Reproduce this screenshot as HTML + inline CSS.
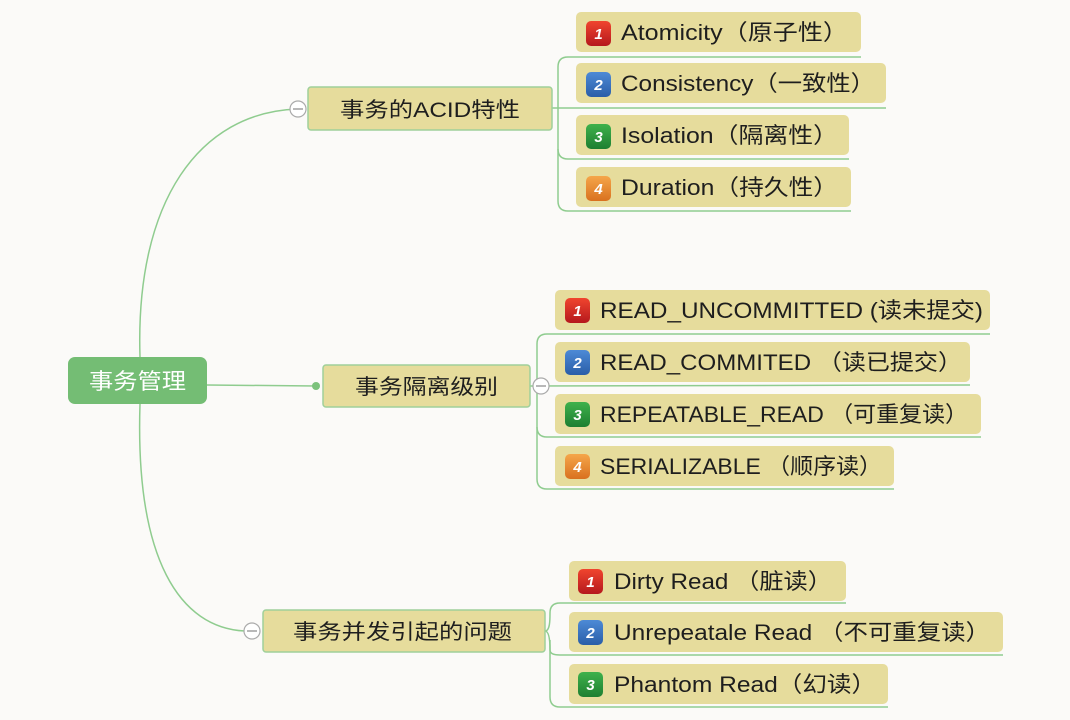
<!DOCTYPE html>
<html><head><meta charset="utf-8"><style>
html,body{margin:0;padding:0;background:#fbfaf8;}
svg{display:block;}
text{font-family:"Liberation Sans","Noto Sans CJK SC",sans-serif;}
.leaf{fill:#e6dc9c;}
.lt{font-size:22px;fill:#1e1e1e;}
.nt{font-size:21px;fill:#1e1e1e;}
.ln{stroke:#8fcc8f;stroke-width:1.5;fill:none;}
.bn{font-size:15px;font-style:italic;fill:#fff;font-weight:bold;}
</style></head><body>
<svg width="1070" height="720" viewBox="0 0 1070 720" xmlns="http://www.w3.org/2000/svg">
<defs>
<linearGradient id="r" x1="0" y1="0" x2="0" y2="1"><stop offset="0" stop-color="#f0452e"/><stop offset="1" stop-color="#b5181d"/></linearGradient>
<linearGradient id="b" x1="0" y1="0" x2="0" y2="1"><stop offset="0" stop-color="#4d8ad6"/><stop offset="1" stop-color="#2a5ea8"/></linearGradient>
<linearGradient id="g" x1="0" y1="0" x2="0" y2="1"><stop offset="0" stop-color="#3fb14c"/><stop offset="1" stop-color="#1e7f31"/></linearGradient>
<linearGradient id="o" x1="0" y1="0" x2="0" y2="1"><stop offset="0" stop-color="#f5a64a"/><stop offset="1" stop-color="#d9711f"/></linearGradient>
</defs>
<!-- root connectors -->
<path class="ln" d="M140,357 C135,200 200,112 298,109"/>
<path class="ln" d="M140,404 C135,560 180,628 245,631"/>
<path class="ln" d="M207,385 L316,386"/>
<circle cx="316" cy="386" r="4" fill="#7cc27c"/>
<!-- root -->
<rect x="68" y="357" width="139" height="47" rx="7" fill="#74bd74"/>
<text x="89" y="389" font-size="22" fill="#fff" textLength="97" lengthAdjust="spacingAndGlyphs">事务管理</text>

<!-- group 1 -->
<path class="ln" d="M552,108 L886,108"/>
<path class="ln" d="M558,108 L558,67 Q558,57 568,57 L861,57"/>
<path class="ln" d="M558,108 L558,149 Q558,159 568,159 L849,159"/>
<path class="ln" d="M558,149 L558,201 Q558,211 568,211 L851,211"/>
<rect x="308" y="87" width="244" height="43" rx="3" class="leaf" stroke="#9fd09a" stroke-width="1.5"/>
<text x="340" y="117" class="nt" textLength="180" lengthAdjust="spacingAndGlyphs">事务的ACID特性</text>
<circle cx="298" cy="109" r="8" fill="#fff" stroke="#aaa" stroke-width="1.2"/><line x1="293" y1="109" x2="303" y2="109" stroke="#888" stroke-width="1.2"/>
<rect x="576" y="12" width="285" height="40" rx="5" class="leaf"/>
<rect x="576" y="63" width="310" height="40" rx="5" class="leaf"/>
<rect x="576" y="115" width="273" height="40" rx="5" class="leaf"/>
<rect x="576" y="167" width="275" height="40" rx="5" class="leaf"/>
<rect x="586" y="21" width="25" height="25" rx="5" fill="url(#r)"/><text x="598.5" y="39" text-anchor="middle" class="bn">1</text>
<rect x="586" y="72" width="25" height="25" rx="5" fill="url(#b)"/><text x="598.5" y="90" text-anchor="middle" class="bn">2</text>
<rect x="586" y="124" width="25" height="25" rx="5" fill="url(#g)"/><text x="598.5" y="142" text-anchor="middle" class="bn">3</text>
<rect x="586" y="176" width="25" height="25" rx="5" fill="url(#o)"/><text x="598.5" y="194" text-anchor="middle" class="bn">4</text>
<text x="621" y="40" class="lt" textLength="227" lengthAdjust="spacingAndGlyphs">Atomicity（原子性）</text>
<text x="621" y="91" class="lt" textLength="254" lengthAdjust="spacingAndGlyphs">Consistency（一致性）</text>
<text x="621" y="143" class="lt" textLength="217" lengthAdjust="spacingAndGlyphs">Isolation（隔离性）</text>
<text x="621" y="195" class="lt" textLength="217" lengthAdjust="spacingAndGlyphs">Duration（持久性）</text>

<!-- group 2 -->
<path class="ln" d="M530,386 L970,385"/>
<path class="ln" d="M537,386 L537,344 Q537,334 547,334 L990,334"/>
<path class="ln" d="M537,386 L537,427 Q537,437 547,437 L981,437"/>
<path class="ln" d="M537,427 L537,479 Q537,489 547,489 L894,489"/>
<rect x="323" y="365" width="207" height="42" rx="3" class="leaf" stroke="#9fd09a" stroke-width="1.5"/>
<text x="355" y="394" class="nt" textLength="143" lengthAdjust="spacingAndGlyphs">事务隔离级别</text>
<circle cx="541" cy="386" r="8" fill="#fff" stroke="#aaa" stroke-width="1.2"/><line x1="536" y1="386" x2="546" y2="386" stroke="#888" stroke-width="1.2"/>
<rect x="555" y="290" width="435" height="40" rx="5" class="leaf"/>
<rect x="555" y="342" width="415" height="40" rx="5" class="leaf"/>
<rect x="555" y="394" width="426" height="40" rx="5" class="leaf"/>
<rect x="555" y="446" width="339" height="40" rx="5" class="leaf"/>
<rect x="565" y="298" width="25" height="25" rx="5" fill="url(#r)"/><text x="577.5" y="316" text-anchor="middle" class="bn">1</text>
<rect x="565" y="350" width="25" height="25" rx="5" fill="url(#b)"/><text x="577.5" y="368" text-anchor="middle" class="bn">2</text>
<rect x="565" y="402" width="25" height="25" rx="5" fill="url(#g)"/><text x="577.5" y="420" text-anchor="middle" class="bn">3</text>
<rect x="565" y="454" width="25" height="25" rx="5" fill="url(#o)"/><text x="577.5" y="472" text-anchor="middle" class="bn">4</text>
<text x="600" y="318" class="lt" textLength="383" lengthAdjust="spacingAndGlyphs">READ_UNCOMMITTED (读未提交)</text>
<text x="600" y="370" class="lt" textLength="362" lengthAdjust="spacingAndGlyphs">READ_COMMITED （读已提交）</text>
<text x="600" y="422" class="lt" textLength="368" lengthAdjust="spacingAndGlyphs">REPEATABLE_READ （可重复读）</text>
<text x="600" y="474" class="lt" textLength="282" lengthAdjust="spacingAndGlyphs">SERIALIZABLE （顺序读）</text>

<!-- group 3 -->
<path class="ln" d="M545,631 C550,631 550,620 550,613 Q550,603 560,603 L846,603"/>
<path class="ln" d="M545,631 C550,631 550,645 550,650 Q550,655 560,655 L1003,655"/>
<path class="ln" d="M550,640 L550,697 Q550,707 560,707 L888,707"/>
<rect x="263" y="610" width="282" height="42" rx="3" class="leaf" stroke="#9fd09a" stroke-width="1.5"/>
<text x="293" y="639" class="nt" textLength="219" lengthAdjust="spacingAndGlyphs">事务并发引起的问题</text>
<circle cx="252" cy="631" r="8" fill="#fff" stroke="#aaa" stroke-width="1.2"/><line x1="247" y1="631" x2="257" y2="631" stroke="#888" stroke-width="1.2"/>
<rect x="569" y="561" width="277" height="40" rx="5" class="leaf"/>
<rect x="569" y="612" width="434" height="40" rx="5" class="leaf"/>
<rect x="569" y="664" width="319" height="40" rx="5" class="leaf"/>
<rect x="578" y="569" width="25" height="25" rx="5" fill="url(#r)"/><text x="590.5" y="587" text-anchor="middle" class="bn">1</text>
<rect x="578" y="620" width="25" height="25" rx="5" fill="url(#b)"/><text x="590.5" y="638" text-anchor="middle" class="bn">2</text>
<rect x="578" y="672" width="25" height="25" rx="5" fill="url(#g)"/><text x="590.5" y="690" text-anchor="middle" class="bn">3</text>
<text x="614" y="589" class="lt" textLength="218" lengthAdjust="spacingAndGlyphs">Dirty Read （脏读）</text>
<text x="614" y="640" class="lt" textLength="376" lengthAdjust="spacingAndGlyphs">Unrepeatale Read （不可重复读）</text>
<text x="614" y="692" class="lt" textLength="262" lengthAdjust="spacingAndGlyphs">Phantom Read（幻读）</text>
</svg>
</body></html>
